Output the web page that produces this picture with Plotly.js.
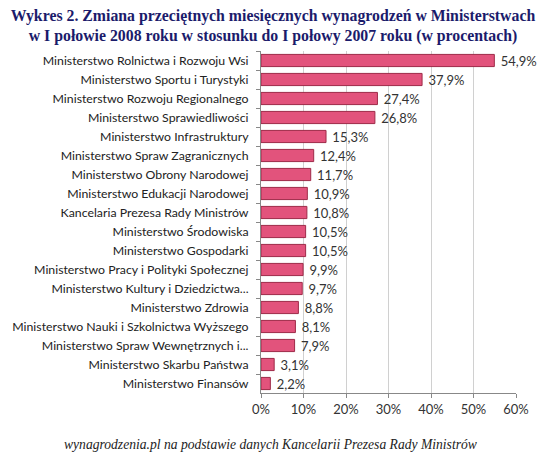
<!DOCTYPE html>
<html><head><meta charset="utf-8">
<script src="https://cdn.plot.ly/plotly-3.0.1.min.js"></script>
<style>body{margin:0;background:#fff}#c{width:546px;height:457px}</style>
</head><body><div id="c"></div>
<script>
const categories = [
  "Ministerstwo Rolnictwa i Rozwoju Wsi",
  "Ministerstwo Sportu i Turystyki",
  "Ministerstwo Rozwoju Regionalnego",
  "Ministerstwo Sprawiedliwości",
  "Ministerstwo Infrastruktury",
  "Ministerstwo Spraw Zagranicznych",
  "Ministerstwo Obrony Narodowej",
  "Ministerstwo Edukacji Narodowej",
  "Kancelaria Prezesa Rady Ministrów",
  "Ministerstwo Środowiska",
  "Ministerstwo Gospodarki",
  "Ministerstwo Pracy i Polityki Społecznej",
  "Ministerstwo Kultury i Dziedzictwa...",
  "Ministerstwo Zdrowia",
  "Ministerstwo Nauki i Szkolnictwa Wyższego",
  "Ministerstwo Spraw Wewnętrznych i...",
  "Ministerstwo Skarbu Państwa",
  "Ministerstwo Finansów"
];
const values = [54.9, 37.9, 27.4, 26.8, 15.3, 12.4, 11.7, 10.9, 10.8, 10.5, 10.5, 9.9, 9.7, 8.8, 8.1, 7.9, 3.1, 2.2];
const tickVals = [0, 10, 20, 30, 40, 50, 60];
const tickText = ["0%", "10%", "20%", "30%", "40%", "50%", "60%"];

const labels = values.map(v => '\u00a0' + v.toFixed(1).replace('.', ',') + '%');

const trace = {
  type: 'bar', orientation: 'h',
  x: values, y: categories,
  text: labels, textposition: 'outside', cliponaxis: false, constraintext: 'none',
  textfont: {family: 'Lato, "Open Sans", sans-serif', size: 13, color: '#333'},
  marker: {color: '#E2537C', line: {color: '#9E2A48', width: 1}},
  hoverinfo: 'none'
};

const layout = {
  width: 546, height: 457,
  margin: {l: 261, r: 30, t: 51, b: 64},
  paper_bgcolor: '#fff', plot_bgcolor: '#fff',
  bargap: 0.36,
  showlegend: false,
  title: {
    text: '<b>Wykres 2. Zmiana przeciętnych miesięcznych wynagrodzeń w Ministerstwach<br>w I połowie 2008 roku w stosunku do I połowy 2007 roku (w procentach)</b>',
    font: {family: '"Liberation Serif", "Times New Roman", serif', size: 15.8, color: '#1B1B6B'},
    x: 0.5, xanchor: 'center', yref: 'container', y: 0.955, yanchor: 'middle'
  },
  xaxis: {
    range: [0, 60], tickvals: tickVals, ticktext: tickText,
    showgrid: true, gridcolor: '#D0D0D0', gridwidth: 1,
    zeroline: false, showline: true, linecolor: '#888', linewidth: 1,
    ticks: 'outside', ticklen: 4, tickcolor: '#888',
    tickfont: {family: 'Lato, "Open Sans", sans-serif', size: 13, color: '#333'},
    fixedrange: true
  },
  yaxis: {
    autorange: 'reversed', type: 'category',
    showline: true, linecolor: '#888', linewidth: 1,
    ticks: 'outside', ticklen: 4, tickcolor: '#888', tickson: 'boundaries',
    showgrid: false,
    tickfont: {family: 'Lato, "Open Sans", sans-serif', size: 12.3, color: '#222'},
    ticklabelstandoff: 9,
    fixedrange: true
  },
  annotations: [{
    text: '<i>wynagrodzenia.pl na podstawie danych Kancelarii Prezesa Rady Ministrów</i>',
    xref: 'paper', yref: 'paper', x: (270 - 261) / 255, y: 0, xanchor: 'center', yanchor: 'middle',
    yshift: -51, showarrow: false,
    font: {family: '"Liberation Serif", "Times New Roman", serif', size: 13.6, color: '#222'}
  }]
};

Plotly.newPlot('c', [trace], layout, {displayModeBar: false, staticPlot: true});
</script>
</body></html>
